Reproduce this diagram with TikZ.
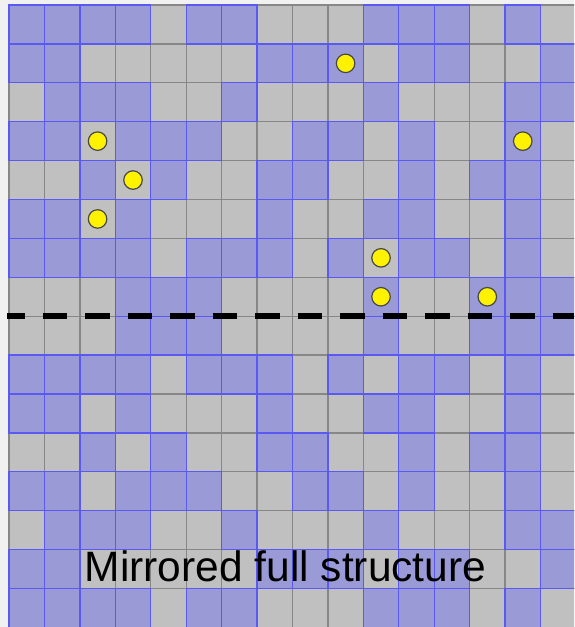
\documentclass[tikz,border=0pt]{standalone}
\usepackage{fontspec}
\setmainfont{Liberation Sans}
\usetikzlibrary{calc}

\definecolor{pagegray}{HTML}{F1F1F1}
\definecolor{cellgray}{HTML}{C0C0C0}
\definecolor{cellblue}{HTML}{9A9AD6}
\definecolor{edgegray}{HTML}{878787}
\definecolor{edgeblue}{HTML}{5A5AF2}

\begin{document}
\begin{tikzpicture}[
  x=1pt, y=-1pt,
  graycell/.style={draw=edgegray, fill=cellgray, line width=1.3pt},
  bluecell/.style={draw=edgeblue, fill=cellblue, line width=1.3pt},
  atom/.style={circle, draw=black!72, fill=yellow, line width=1.2pt,
               minimum size=18.5pt, inner sep=0pt},
  mirror/.style={draw=black, line width=5.5pt,
                 dash pattern=on 24.5pt off 18pt, dash phase=7pt},
  caption/.style={font=\fontsize{42.5}{50}\selectfont, anchor=base west,
                  inner sep=0pt},
]
\clip (0,0) rectangle (574,627);
\fill[pagegray] (0,0) rectangle (574,627);

% ---- base lattice (all sites empty) ----
\foreach \r in {0,...,15}
  \foreach \c in {0,...,15}
    \draw[graycell] ({9+\c*35.43},{5+\r*38.9}) rectangle +(35.43,38.9);

% ---- occupied sites, upper half and its mirror image ----
\foreach \r/\pat in {0/{1,1,1,1,0,1,1,0,0,0,1,1,1,0,1,0},
                     1/{1,1,0,0,0,0,0,1,1,1,0,1,1,0,0,1},
                     2/{0,1,1,1,0,0,1,0,0,0,1,0,0,0,1,1},
                     3/{1,1,0,1,1,1,0,0,1,1,0,1,0,0,1,0},
                     4/{0,0,1,0,1,0,0,1,1,0,0,1,0,1,1,0},
                     5/{1,1,0,1,0,0,0,1,0,0,1,1,0,0,1,0},
                     6/{1,1,1,1,0,1,1,1,0,1,0,1,1,0,1,0},
                     7/{0,0,0,1,1,1,0,0,0,0,1,0,0,1,1,1}}
  \foreach \v [count=\c from 0] in \pat {
    \ifnum\v=1
      \draw[bluecell] ({9+\c*35.43},{5+\r*38.9}) rectangle +(35.43,38.9);
      \draw[bluecell] ({9+\c*35.43},{5+(15-\r)*38.9}) rectangle +(35.43,38.9);
    \fi
  }

% ---- marked sites ----
\node[atom] (s1) at ({9+9.5*35.43},{5+1.5*38.9}) {};
\node[atom] (s2) at ({9+2.5*35.43},{5+3.5*38.9}) {};
\node[atom] (s3) at ({9+14.5*35.43},{5+3.5*38.9}) {};
\node[atom] (s4) at ({9+3.5*35.43},{5+4.5*38.9}) {};
\node[atom] (s5) at ({9+2.5*35.43},{5+5.5*38.9}) {};
\node[atom] (s6) at ({9+10.5*35.43},{5+6.5*38.9}) {};
\node[atom] (s7) at ({9+10.5*35.43},{5+7.5*38.9}) {};
\node[atom] (s8) at ({9+13.5*35.43},{5+7.5*38.9}) {};

% ---- mirror plane ----
\coordinate (mirL) at (7,{5+8*38.9});
\coordinate (mirR) at (574,{5+8*38.9});
\draw[mirror] (mirL) -- (mirR);

\node[caption] (title) at (84.5,581.5) {Mirrored full structure};
\end{tikzpicture}
\end{document}
